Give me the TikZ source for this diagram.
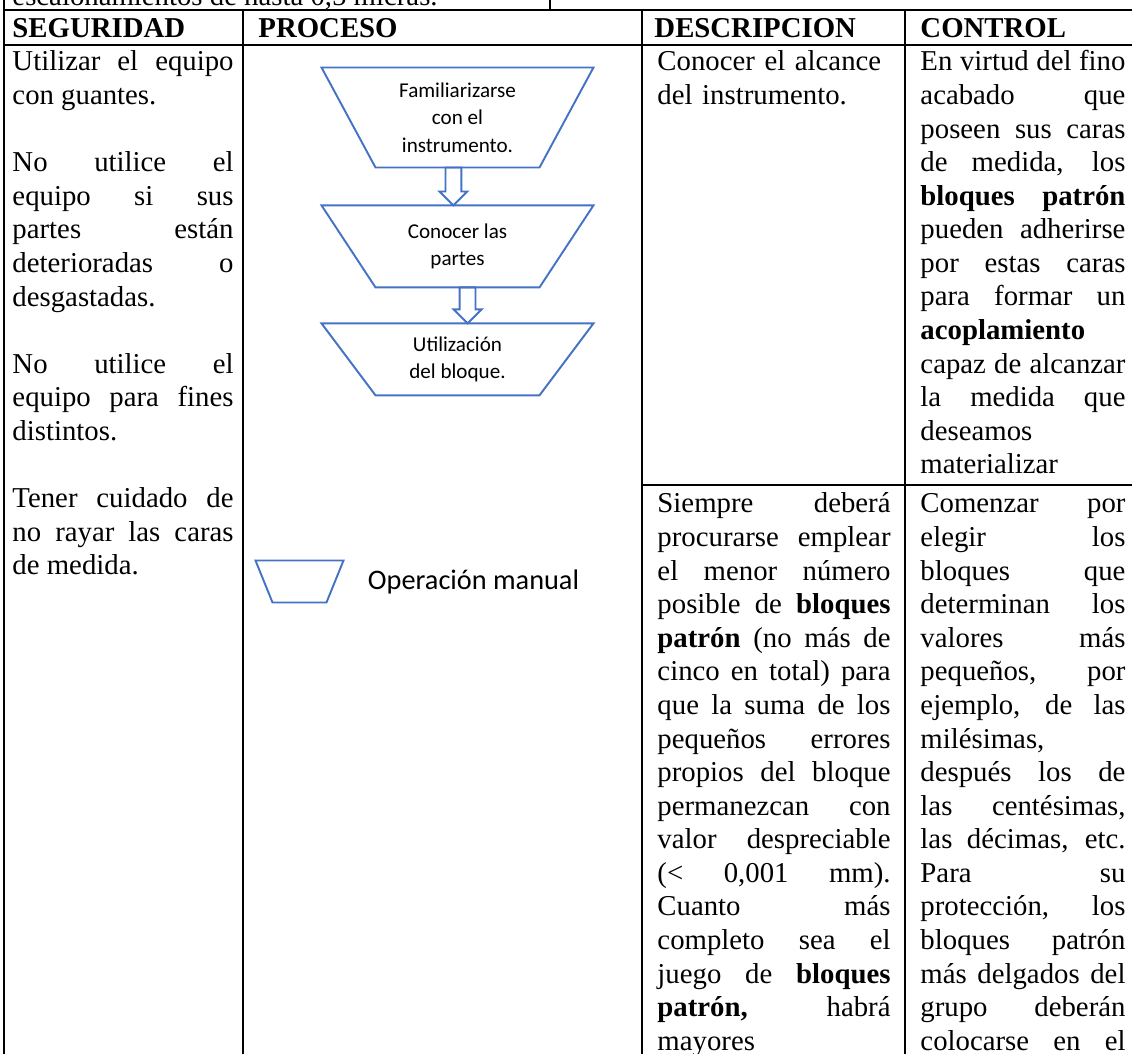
\documentclass[tikz,border=0pt]{standalone}
\usepackage{fontspec}
\setmainfont{Liberation Serif}
\newfontfamily\shapefont{Carlito}
\usepackage{xcolor}
\definecolor{OpBlue}{HTML}{4472C4}
\definecolor{TableInk}{HTML}{000000}
\usepackage{tikz}
\usetikzlibrary{positioning,calc}
\hyphenpenalty=10000
\tikzset{
  tline/.style={draw=TableInk,line width=0.8pt},
  hcell/.style={anchor=base west,inner sep=0pt,font=\bfseries\fontsize{12}{14}\selectfont},
  tcell/.style={anchor=base west,inner sep=0pt,align=justify,font=\fontsize{12}{14}\selectfont},
  segcell/.style={tcell,text width=92.2pt},
  desccell/.style={tcell,text width=97.2pt},
  ctrlcell/.style={tcell,text width=85.5pt},
  opbox/.style={inner sep=0pt,minimum width=113pt,align=center,font=\shapefont\fontsize{8.8}{11.5}\selectfont},
  opline/.style={draw=OpBlue,line width=0.8pt},
  blockarrow/.style={opline,to path={let \p1=(\tikztostart),\p2=(\tikztotarget) in
    (\x1+#1-3.3pt,\y1) -- (\x1+#1+3.3pt,\y1) -- (\x1+#1+3.3pt,\y2+5.8pt) -- (\x1+#1+5.8pt,\y2+5.8pt)
    -- (\x1+#1,\y2) -- (\x1+#1-5.8pt,\y2+5.8pt) -- (\x1+#1-3.3pt,\y2+5.8pt) -- cycle}},
  blockarrow/.default=0pt
}

\begin{document}
\begin{tikzpicture}[x=0.417pt,y=-0.417pt]
  \useasboundingbox (0,0) rectangle (1132,1054);
  \clip (0,0) rectangle (1132,1054);
  % table rules
  \draw[tline] (4,0) -- (4,1060);
  \draw[tline] (550,0) -- (550,10);
  \draw[tline] (4,10) -- (1140,10);
  \draw[tline] (4,45) -- (1140,45);
  \foreach \cx in {243,642,905}
    \draw[tline] (\cx,10) -- (\cx,1060);
  \draw[tline] (642,485) -- (1140,485);
  % headings
  \node[tcell] (note) at (12,6) {escalonamientos de hasta 0,5 micras.};
  \node[hcell] (hseg) at (12,38) {SEGURIDAD};
  \node[hcell] (hproc) at (258,38) {PROCESO};
  \node[hcell] (hdesc) at (654,38) {DESCRIPCION};
  \node[hcell] (hctrl) at (920,38) {CONTROL};
  % seguridad
  \node[segcell] (seg1) at (12,71) {Utilizar el equipo\linebreak con guantes.};
  \node[segcell] (seg2) at (12,171.8) {No utilice el\linebreak equipo si sus\linebreak partes están\linebreak deterioradas o\linebreak desgastadas.};
  \node[segcell] (seg3) at (12,373.4) {No utilice el\linebreak equipo para fines\linebreak distintos.};
  \node[segcell] (seg4) at (12,507.8) {Tener cuidado de\linebreak no rayar las caras\linebreak de medida.};
  % proceso
  \node[opbox,minimum height=41.3pt] (fam) at (457.5,117.5) {Familiarizarse\\con el\\instrumento.};
  \node[opbox,minimum height=33.8pt,below=15.8pt of fam] (con) {Conocer las\\partes};
  \node[opbox,minimum height=29.6pt,below=15pt of con] (uti) {Utilización\\del bloque.};
  \node[opbox,minimum width=36.3pt,minimum height=17.1pt] (leg) at (299.5,581.5) {};
  \node[right=10pt of leg,inner sep=0pt,font=\shapefont\fontsize{11.8}{14}\selectfont] (legtext) {Operación manual};
  \foreach \n/\d in {fam/22.5pt,con/22.5pt,uti/22.5pt,leg/7.1pt}
    \draw[opline] (\n.north west) -- (\n.north east) -- ([xshift=-\d]\n.south east) -- ([xshift=\d]\n.south west) -- cycle;
  \draw[blockarrow=-1.7pt] (fam.south) to (con.north);
  \draw[blockarrow=4.2pt] (con.south) to (uti.north);
  % descripcion
  \node[desccell,align=left] (desc1) at (657,71) {Conocer el alcance\\del instrumento.};
  \node[desccell] (desc2) at (657,513) {Siempre deberá\linebreak procurarse emplear\linebreak el menor número\linebreak posible de \textbf{bloques}\linebreak \textbf{patrón} (no más de\linebreak cinco en total) para\linebreak que la suma de los\linebreak pequeños errores\linebreak propios del bloque\linebreak permanezcan con\linebreak valor despreciable\linebreak (< 0,001 mm).\linebreak Cuanto más\linebreak completo sea el\linebreak juego de \textbf{bloques}\linebreak \textbf{patrón,} habrá\linebreak mayores};
  % control
  \node[ctrlcell] (ctrl1) at (920,71) {En virtud del fino\linebreak acabado que\linebreak poseen sus caras\linebreak de medida, los\linebreak \textbf{bloques patrón}\linebreak pueden adherirse\linebreak por estas caras\linebreak para formar un\linebreak \textbf{acoplamiento}\linebreak capaz de alcanzar\linebreak la medida que\linebreak deseamos\linebreak materializar};
  \node[ctrlcell] (ctrl2) at (920,513) {Comenzar por\linebreak elegir los\linebreak bloques que\linebreak determinan los\linebreak valores más\linebreak pequeños, por\linebreak ejemplo, de las\linebreak milésimas,\linebreak después los de\linebreak las centésimas,\linebreak las décimas, etc.\linebreak Para su\linebreak protección, los\linebreak bloques patrón\linebreak más delgados del\linebreak grupo deberán\linebreak colocarse en el\linebreak};
\end{tikzpicture}
\end{document}
